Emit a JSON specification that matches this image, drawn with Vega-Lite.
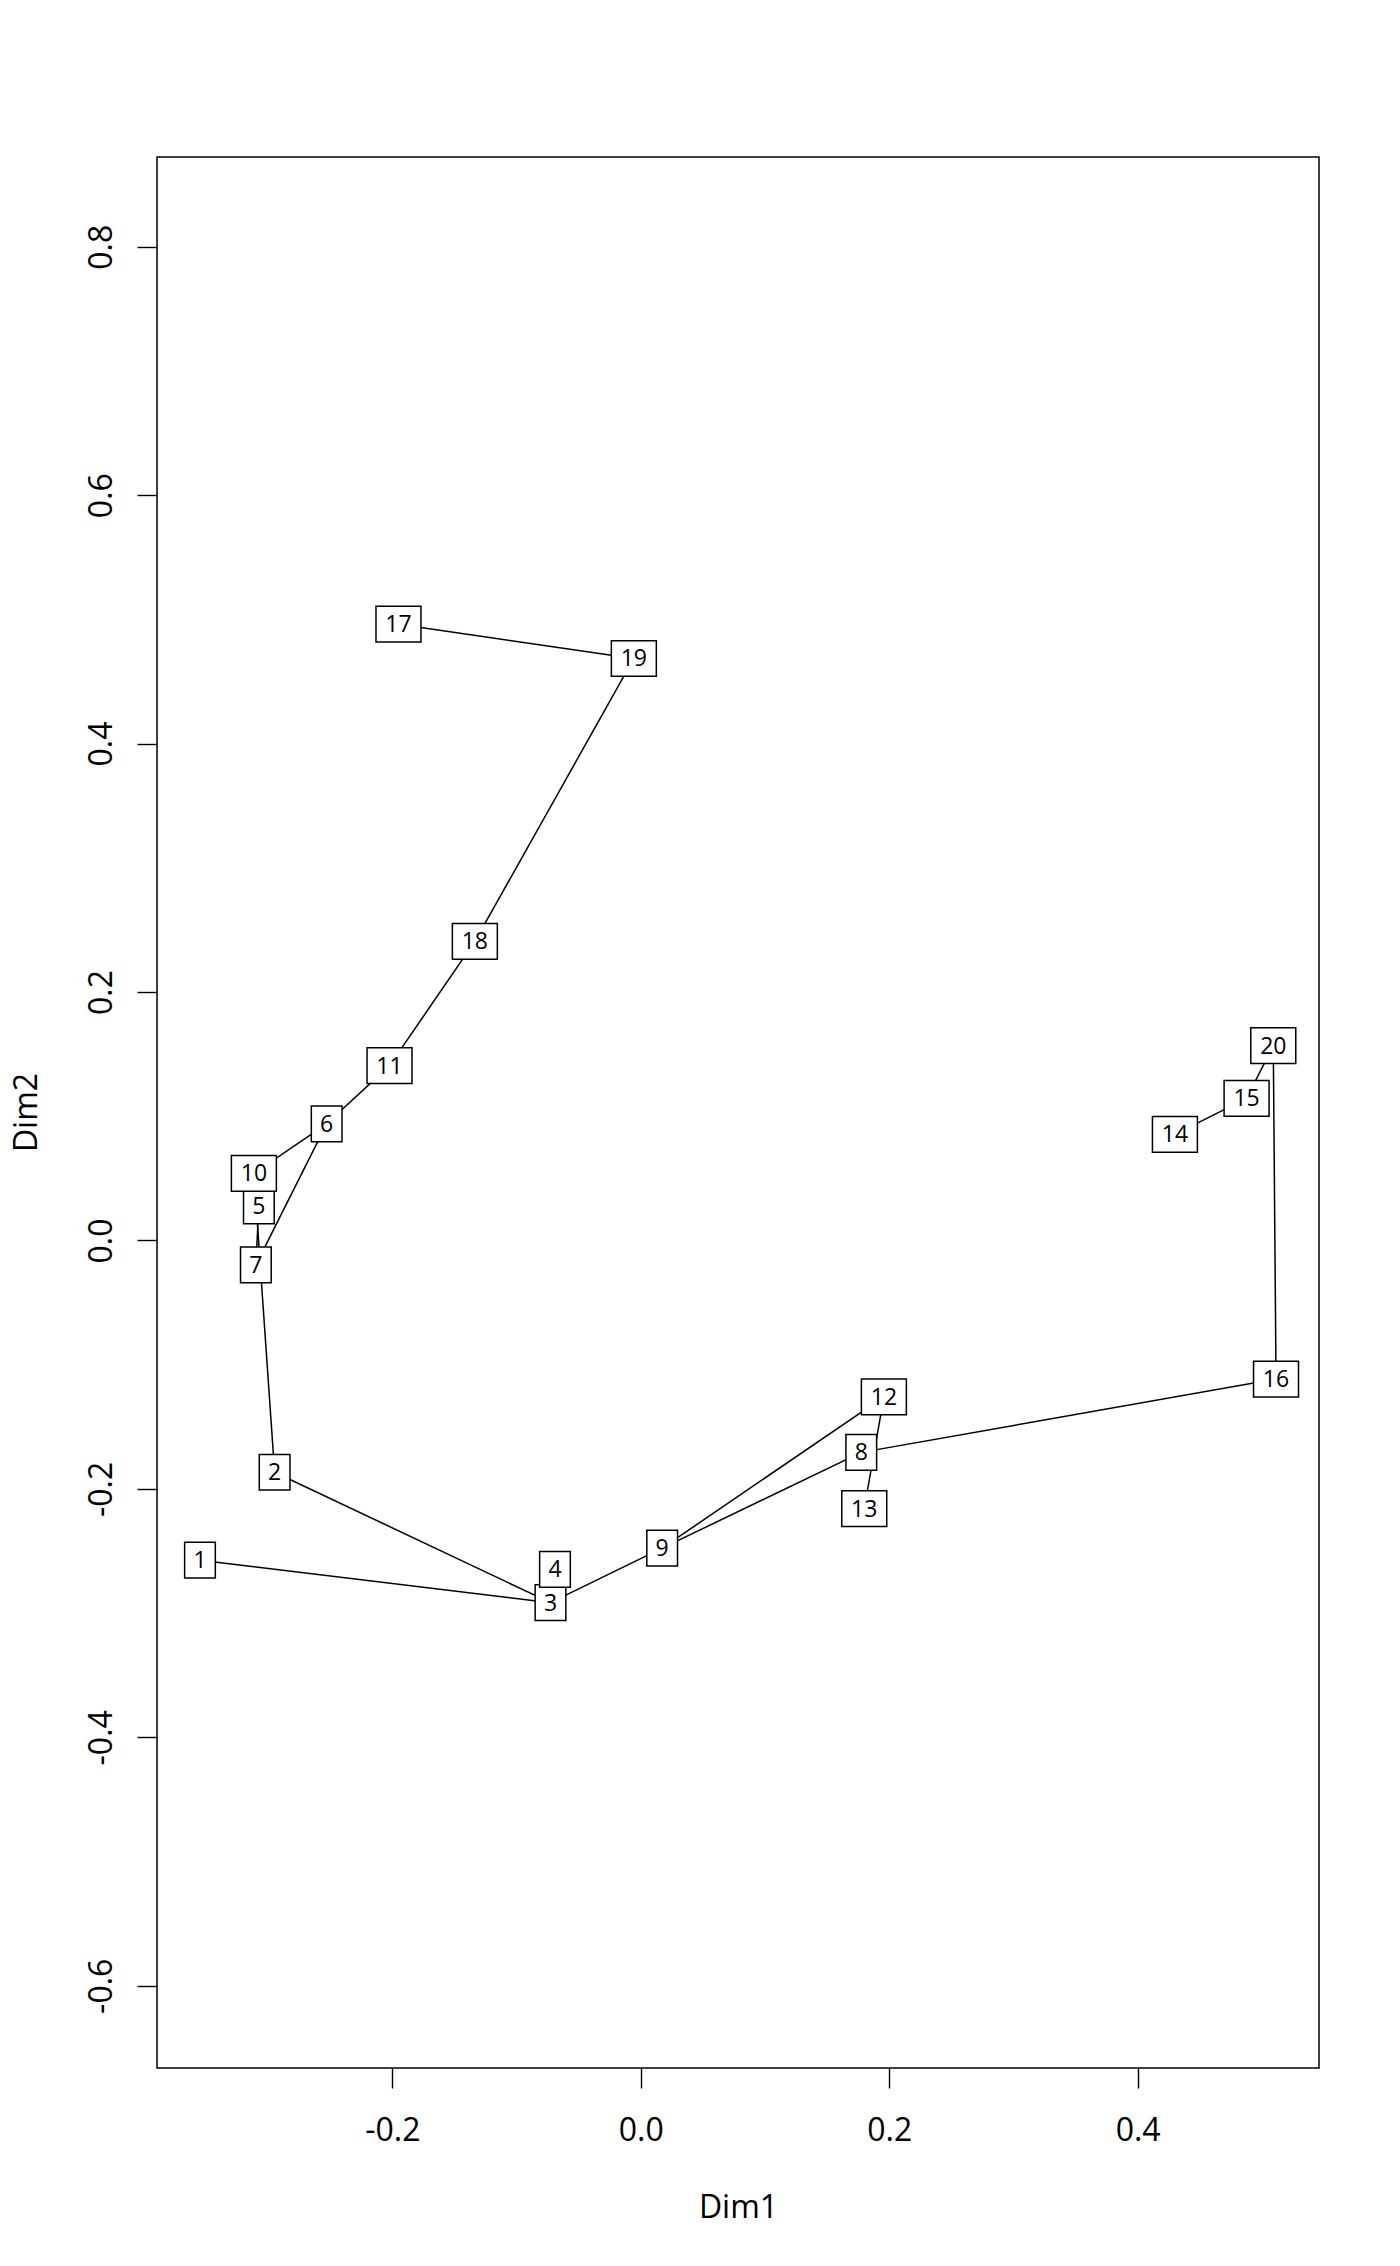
{
  "$schema": "https://vega.github.io/schema/vega-lite/v6.json",
  "autosize": "none",
  "width": 1162,
  "height": 1911,
  "padding": {"left": 157, "top": 157, "right": 81, "bottom": 198},
  "background": "white",
  "config": {
    "view": {"stroke": "black", "strokeWidth": 1.5},
    "font": "Open Sans",
    "axis": {
      "grid": false,
      "domain": false,
      "tickColor": "black",
      "tickWidth": 1.4,
      "tickSize": 20,
      "labelFont": "Open Sans",
      "labelFontSize": 32,
      "labelColor": "black",
      "titleFont": "Open Sans",
      "titleFontSize": 32,
      "titleFontWeight": "normal",
      "titleColor": "black"
    }
  },
  "datasets": {
    "nodes": [
      {"id": 1, "x": -0.3549, "y": -0.2574},
      {"id": 2, "x": -0.2948, "y": -0.1866},
      {"id": 3, "x": -0.0727, "y": -0.2916},
      {"id": 4, "x": -0.0691, "y": -0.2648},
      {"id": 5, "x": -0.3075, "y": 0.0279},
      {"id": 6, "x": -0.2529, "y": 0.0939},
      {"id": 7, "x": -0.3099, "y": -0.0196},
      {"id": 8, "x": 0.1775, "y": -0.1706},
      {"id": 9, "x": 0.0172, "y": -0.2477},
      {"id": 10, "x": -0.3115, "y": 0.054},
      {"id": 11, "x": -0.2023, "y": 0.1407},
      {"id": 12, "x": 0.1957, "y": -0.1259},
      {"id": 13, "x": 0.1799, "y": -0.2159},
      {"id": 14, "x": 0.43, "y": 0.0854},
      {"id": 15, "x": 0.4877, "y": 0.1144},
      {"id": 16, "x": 0.5114, "y": -0.1116},
      {"id": 17, "x": -0.1951, "y": 0.4961},
      {"id": 18, "x": -0.1336, "y": 0.2407},
      {"id": 19, "x": -0.0056, "y": 0.4685},
      {"id": 20, "x": 0.5092, "y": 0.1568}
    ],
    "edges": [
      {"from": 17, "to": 19},
      {"from": 19, "to": 18},
      {"from": 18, "to": 11},
      {"from": 11, "to": 6},
      {"from": 6, "to": 10},
      {"from": 6, "to": 7},
      {"from": 5, "to": 7},
      {"from": 10, "to": 2},
      {"from": 2, "to": 3},
      {"from": 1, "to": 3},
      {"from": 3, "to": 4},
      {"from": 3, "to": 9},
      {"from": 9, "to": 12},
      {"from": 9, "to": 8},
      {"from": 8, "to": 16},
      {"from": 12, "to": 13},
      {"from": 16, "to": 20},
      {"from": 20, "to": 15},
      {"from": 15, "to": 14}
    ]
  },
  "layer": [
    {
      "data": {"name": "edges"},
      "transform": [
        {"lookup": "from", "from": {"data": {"name": "nodes"}, "key": "id", "fields": ["x", "y"]}, "as": ["x1", "y1"]},
        {"lookup": "to", "from": {"data": {"name": "nodes"}, "key": "id", "fields": ["x", "y"]}, "as": ["x2", "y2"]}
      ],
      "mark": {"type": "rule", "color": "black", "strokeWidth": 1.5},
      "encoding": {
        "x": {
          "field": "x1",
          "type": "quantitative",
          "scale": {"domain": [-0.3895, 0.546], "nice": false, "zero": false},
          "axis": {
            "values": [-0.2, 0, 0.2, 0.4],
            "labelExpr": "replace(format(datum.value, '.1f'), '\u2212', '-')",
            "labelPadding": 27,
            "labelFlush": false,
            "labelOverlap": false,
            "title": "Dim1",
            "titleBaseline": "alphabetic",
            "titleY": 149
          }
        },
        "y": {
          "field": "y1",
          "type": "quantitative",
          "scale": {"domain": [-0.6662, 0.8722], "nice": false, "zero": false},
          "axis": {
            "values": [-0.6, -0.4, -0.2, 0, 0.2, 0.4, 0.6, 0.8],
            "labelExpr": "replace(format(datum.value, '.1f'), '\u2212', '-')",
            "labelAngle": -90,
            "labelAlign": "center",
            "labelBaseline": "alphabetic",
            "labelPadding": 26,
            "labelFlush": false,
            "labelOverlap": false,
            "title": "Dim2",
            "titleAngle": -90,
            "titleAlign": "center",
            "titleBaseline": "alphabetic",
            "titleX": -121,
            "titleY": 955
          }
        },
        "x2": {"field": "x2"},
        "y2": {"field": "y2"}
      }
    },
    {
      "data": {"name": "nodes"},
      "mark": {"type": "point", "filled": true, "fill": "white", "stroke": "black", "strokeWidth": 1.5, "opacity": 1},
      "encoding": {
        "x": {"field": "x", "type": "quantitative"},
        "y": {"field": "y", "type": "quantitative"},
        "size": {"value": 1274},
        "shape": {
          "condition": {"test": "datum.id < 10", "value": "M-0.86,-1H0.86V1H-0.86Z"},
          "value": "M-1.26,-1H1.26V1H-1.26Z"
        }
      }
    },
    {
      "data": {"name": "nodes"},
      "mark": {"type": "text", "font": "Open Sans", "fontSize": 23, "color": "black", "align": "center", "baseline": "middle", "dy": 1},
      "encoding": {
        "x": {"field": "x", "type": "quantitative"},
        "y": {"field": "y", "type": "quantitative"},
        "text": {"field": "id", "type": "nominal"}
      }
    }
  ]
}
